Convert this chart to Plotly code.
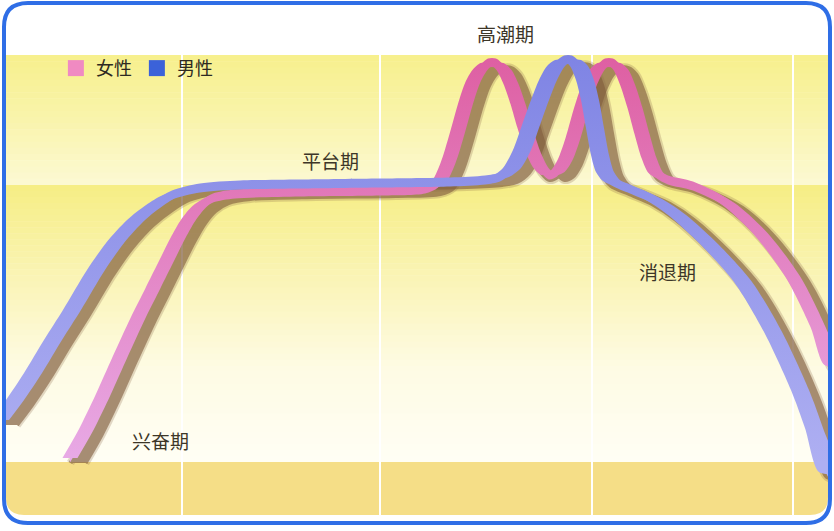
import plotly.graph_objects as go

W, H = 834, 531

# 时间轴 0-100，兴奋程度 0 = 基线，100 = 高潮顶点
male_t = [0.0, 1.80, 3.96, 6.35, 8.63, 11.51, 13.79, 16.31, 18.59, 20.62, 23.98, 28.78, 35.97,
          45.56, 53.96, 58.15, 59.95, 61.39, 62.59, 63.67, 64.75, 65.71, 66.67, 67.63, 68.59,
          69.42, 70.14, 70.74, 71.34, 71.94, 72.54, 73.38, 75.54, 78.30, 81.18, 85.13, 89.09,
          92.69, 95.92, 97.60, 99.28]
male_lv = [10.32, 15.23, 21.87, 29.98, 37.35, 47.17, 53.81, 59.46, 63.14, 65.60, 67.32, 68.06,
           68.30, 68.55, 68.80, 69.29, 70.02, 72.24, 76.66, 82.80, 88.94, 93.86, 97.30, 98.77,
           98.77, 97.30, 93.86, 88.94, 82.06, 75.43, 71.25, 69.04, 67.08, 64.62, 60.69, 53.32,
           44.23, 31.94, 17.69, 8.35, -2.46]

female_t = [8.39, 10.31, 12.35, 14.39, 16.55, 18.35, 19.90, 21.34, 22.66, 23.98, 25.54, 28.18,
            35.97, 45.56, 50.96, 52.52, 53.72, 54.80, 55.88, 56.71, 57.55, 58.51, 59.47, 60.43,
            61.27, 62.11, 62.95, 63.91, 64.87, 65.83, 66.79, 67.75, 68.71, 69.66, 70.62, 71.58,
            72.54, 73.50, 74.46, 75.30, 76.14, 76.98, 77.82, 78.66, 80.10, 83.09, 87.17, 91.13,
            95.08, 98.08, 99.76]
female_lv = [0.98, 7.86, 16.46, 25.80, 35.38, 42.75, 49.14, 55.04, 59.71, 62.90, 64.86, 65.85,
             66.34, 66.58, 67.08, 68.55, 73.46, 80.59, 88.45, 93.37, 96.31, 98.03, 98.03, 96.31,
             92.87, 87.96, 82.06, 76.17, 72.24, 70.52, 71.25, 74.20, 79.61, 86.49, 92.38, 96.31,
             98.03, 98.03, 96.31, 92.38, 86.98, 80.59, 74.69, 71.01, 69.29, 67.81, 63.64, 56.27,
             45.45, 33.17, 23.83]

stages = ["兴奋期", "平台期", "高潮期", "消退期"]
stage_t = [19.2, 39.6, 60.6, 80.0]
stage_lv = [5.2, 74.0, 105.4, 46.9]

grid_t = [21.8, 45.6, 71.0, 95.1]

Y0, Y1 = -16.95, 113.51     # y 轴范围（与画面像素对应）
PX_T = 100 / W               # 1 像素对应的时间单位
PX_L = (Y1 - Y0) / H         # 1 像素对应的程度单位


def ribbon_parts(ts, ls, hw, hv, dx=0.0, dy=0.0):
    # 水平方向加宽 + 垂直方向加厚，模拟立体彩带
    a = ([t - hw + dx for t in ts] + [t + hw + dx for t in reversed(ts)],
         [l + dy for l in ls] + [l + dy for l in reversed(ls)])
    b = ([t + dx for t in ts] + [t + dx for t in reversed(ts)],
         [l + hv + dy for l in ls] + [l - hv + dy for l in reversed(ls)])
    return [a, b]


fig = go.Figure()

series = [
    ("女性", female_t, female_lv, 7.5, "#e8aae6", "#de5fa2"),
    ("男性", male_t, male_lv, 9, "#aeaff2", "#7f84e4"),
]
SPL = dict(shape="spline", smoothing=0.8)

# 阴影
for name, ts, ls, hw, c_lo, c_hi in series:
    xs, ys = ribbon_parts(ts, ls, hw * PX_T, 4 * PX_L, 8 * PX_T, -5 * PX_L)[0]
    fig.add_trace(go.Scatter(x=xs, y=ys, fill="toself", mode="lines",
                             fillcolor="#8c6a4a", opacity=0.25,
                             line=dict(color="#8c6a4a", width=8, **SPL),
                             hoverinfo="skip", showlegend=False))
    fig.add_trace(go.Scatter(x=xs, y=ys, fill="toself", mode="lines",
                             fillcolor="#805c3c", opacity=0.6,
                             line=dict(color="#805c3c", width=4, **SPL),
                             hoverinfo="skip", showlegend=False))

# 彩带
for name, ts, ls, hw, c_lo, c_hi in series:
    for xs, ys in ribbon_parts(ts, ls, hw * PX_T, 4.5 * PX_L):
        fig.add_trace(go.Scatter(x=xs, y=ys, fill="toself", mode="lines",
                                 fillgradient=dict(type="vertical", start=0, stop=100,
                                                   colorscale=[[0, c_lo], [1, c_hi]]),
                                 line=dict(width=0, **SPL),
                                 hoverinfo="skip", showlegend=False))

# 图例
for name, col in [("女性", "#f08ac2"), ("男性", "#3b62d9")]:
    fig.add_trace(go.Scatter(x=[None], y=[None], mode="markers", name=name,
                             marker=dict(symbol="square", size=17, color=col)))

for txt, t, lv in zip(stages, stage_t, stage_lv):
    fig.add_annotation(x=t, y=lv, text=txt, showarrow=False,
                       font=dict(family="Noto Sans CJK SC", size=19, color="#3d3628"))


def mix(c1, c2, f):
    a = [int(c1[i:i + 2], 16) for i in (1, 3, 5)]
    b = [int(c2[i:i + 2], 16) for i in (1, 3, 5)]
    return "#" + "".join(f"{round(p + (q - p) * f):02x}" for p, q in zip(a, b))


def px(x, y):
    return f"{x / W:.5f},{1 - y / H:.5f}"


shapes = []
# 背景色带（渐变用细条拼出）
bands = [(55, 185, ["#f7f08e", "#f9f4ac", "#fcf9d2"]),
         (185, 462, ["#f6ee86", "#faf4b6", "#fefbe4", "#fffef4"])]
for top, bot, stops in bands:
    n = int((bot - top) / 6)
    for i in range(n):
        f = i / (n - 1) * (len(stops) - 1)
        k = min(int(f), len(stops) - 2)
        col = mix(stops[k], stops[k + 1], f - k)
        shapes.append(dict(type="rect", xref="paper", yref="paper", layer="below",
                           x0=6 / W, x1=828 / W,
                           y0=1 - (top + (bot - top) * (i + 1) / n) / H - 0.001,
                           y1=1 - (top + (bot - top) * i / n) / H,
                           fillcolor=col, line=dict(width=0)))
r = 18
shapes.append(dict(type="path", xref="paper", yref="paper", layer="below",
                   path=(f"M{px(6, 462)} L{px(828, 462)} L{px(828, 515 - r)} "
                         f"Q{px(828, 515)} {px(828 - r, 515)} L{px(6 + r, 515)} "
                         f"Q{px(6, 515)} {px(6, 515 - r)} Z"),
                   fillcolor="#f5de87", line=dict(width=0)))

# 边框外侧留白（遮住伸出边框的彩带）
for a0, b0, a1, b1 in [(0, 0, 4, H), (830, 0, W, H), (0, 523, W, H)]:
    shapes.append(dict(type="rect", xref="paper", yref="paper", layer="above",
                       x0=a0 / W, x1=a1 / W, y0=1 - b1 / H, y1=1 - b0 / H,
                       fillcolor="white", line=dict(width=0)))

# 蓝色圆角边框
x0, y0, x1, y1, r = 4, 3, 830, 523, 24
shapes.append(dict(type="path", xref="paper", yref="paper", layer="above",
                   path=(f"M{px(x0 + r, y0)} L{px(x1 - r, y0)} Q{px(x1, y0)} {px(x1, y0 + r)} "
                         f"L{px(x1, y1 - r)} Q{px(x1, y1)} {px(x1 - r, y1)} "
                         f"L{px(x0 + r, y1)} Q{px(x0, y1)} {px(x0, y1 - r)} "
                         f"L{px(x0, y0 + r)} Q{px(x0, y0)} {px(x0 + r, y0)} Z"),
                   line=dict(color="#2f6ee6", width=4)))

fig.update_layout(
    width=W, height=H,
    margin=dict(l=0, r=0, t=0, b=0),
    paper_bgcolor="white", plot_bgcolor="white",
    shapes=shapes,
    xaxis=dict(range=[0, 100], tickvals=grid_t, showgrid=True, gridcolor="white", gridwidth=2,
               showticklabels=False, ticks="", zeroline=False, showline=False, fixedrange=True),
    yaxis=dict(range=[Y0, Y1], showgrid=False, showticklabels=False, ticks="",
               zeroline=False, showline=False, fixedrange=True),
    legend=dict(orientation="h", x=0.067, y=0.906, xanchor="left", yanchor="top",
                bgcolor="rgba(0,0,0,0)", font=dict(family="Noto Sans CJK SC", size=18, color="#2e2a22")),
    font=dict(family="Noto Sans CJK SC"),
)

# 页面 body 默认有 8px 边距，去掉以便图表铺满窗口
fig.write_html("out.html", config={"displayModeBar": False},
               post_script="document.body.style.margin='0';")
